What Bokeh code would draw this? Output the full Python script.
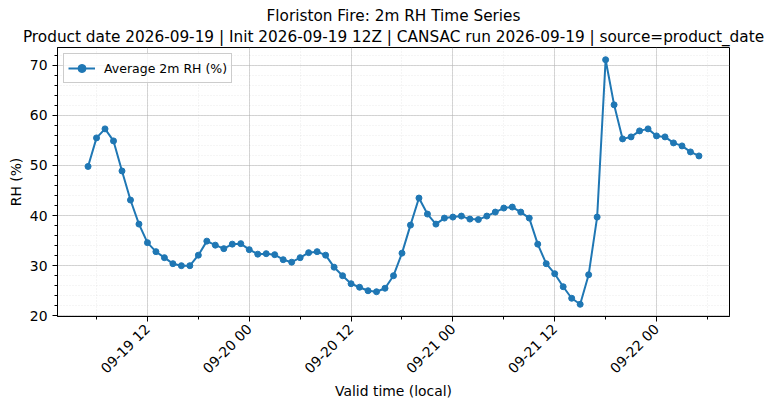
import pandas as pd
from bokeh.plotting import figure
from bokeh.models import (ColumnDataSource, Range1d, FixedTicker, SingleIntervalTicker,
                          DatetimeTickFormatter, Title, Legend)
from bokeh.embed import file_html
from bokeh.resources import INLINE
from math import pi

FONT = "DejaVu Sans"

# hourly valid times (local) and the fire-area average 2m RH
valid_time = pd.date_range("2026-09-19 05:00", "2026-09-22 05:00", freq="h")
rh = [49.8, 55.5, 57.3, 54.9, 48.9, 43.1, 38.3, 34.6, 32.8, 31.6,
      30.4, 30.0, 30.0, 32.1, 34.9, 34.1, 33.4, 34.3, 34.4, 33.2,
      32.3, 32.4, 32.2, 31.2, 30.7, 31.6, 32.6, 32.8, 32.1, 29.7,
      28.0, 26.4, 25.7, 25.0, 24.8, 25.5, 28.0, 32.5, 38.1, 43.5,
      40.3, 38.3, 39.5, 39.7, 39.9, 39.3, 39.2, 39.9, 40.7, 41.5,
      41.7, 40.7, 39.5, 34.3, 30.4, 28.4, 25.8, 23.5, 22.3, 28.2,
      39.7, 71.1, 62.1, 55.3, 55.7, 56.9, 57.3, 55.9, 55.7, 54.5,
      53.9, 52.7, 51.9]

title_main = "Floriston Fire: 2m RH Time Series"
title_sub = "Product date 2026-09-19 | Init 2026-09-19 12Z | CANSAC run 2026-09-19 | source=product_date"
series_label = "Average 2m RH (%)"

major_times = pd.date_range("2026-09-19 12:00", "2026-09-22 00:00", freq="12h")
minor_times = pd.date_range("2026-09-19 00:00", "2026-09-22 12:00", freq="6h")


def to_ms(times):
    return [t.value // 10**6 for t in times]


source = ColumnDataSource(data={'time': valid_time, 'rh': rh})

# matplotlib-like 5% margins
t0, t1 = valid_time[0], valid_time[-1]
pad_t = (t1 - t0) * 0.05
pad_y = (max(rh) - min(rh)) * 0.05

p = figure(width=775, height=409, x_axis_type="datetime",
           x_range=Range1d(t0 - pad_t, t1 + pad_t),
           y_range=Range1d(min(rh) - pad_y, max(rh) + pad_y),
           x_axis_label="Valid time (local)", y_axis_label="RH (%)",
           toolbar_location=None, output_backend="svg",
           min_border_left=57, min_border_right=46,
           min_border_top=47, min_border_bottom=93)

p.add_layout(Title(text=title_sub, align="center", text_font=FONT,
                   text_font_size="15.3px", text_font_style="normal",
                   text_color="black", standoff=4, offset=0), "above")
p.add_layout(Title(text=title_main, align="center", text_font=FONT,
                   text_font_size="15.3px", text_font_style="normal",
                   text_color="black", standoff=-3, offset=0), "above")

line = p.line(x='time', y='rh', source=source, color="#1f77b4", line_width=2)
dots = p.scatter(x='time', y='rh', source=source, color="#1f77b4", size=6)

p.xaxis.ticker = FixedTicker(ticks=to_ms(major_times), minor_ticks=to_ms(minor_times))
p.xaxis.formatter = DatetimeTickFormatter(hours="%m-%d %H", days="%m-%d %H",
                                          hourmin="%m-%d %H", months="%m-%d %H")
p.xaxis.major_label_orientation = pi / 4
p.xaxis.axis_label_standoff = -2
p.yaxis.ticker = SingleIntervalTicker(interval=10, num_minor_ticks=5)
p.yaxis.axis_label_standoff = 3

for ax in [p.xaxis, p.yaxis]:
    ax.axis_label_text_font = FONT
    ax.axis_label_text_font_size = "13.9px"
    ax.axis_label_text_font_style = "normal"
    ax.axis_label_text_color = "black"
    ax.major_label_text_font = FONT
    ax.major_label_text_font_size = "13.9px"
    ax.major_label_text_color = "black"
    ax.major_tick_in = 0
    ax.major_tick_out = 5
    ax.minor_tick_in = 0
    ax.minor_tick_out = 3
    ax.axis_line_color = "black"
    ax.major_tick_line_color = "black"
    ax.minor_tick_line_color = "black"

p.outline_line_color = "black"
p.outline_line_alpha = 1

for g in [p.xgrid, p.ygrid]:
    g.grid_line_color = "#b0b0b0"
    g.grid_line_alpha = 0.5
    g.minor_grid_line_color = "#b0b0b0"
    g.minor_grid_line_alpha = 0.4
    g.minor_grid_line_dash = "1 2"
    g.minor_grid_line_width = 0.6

legend = Legend(items=[(series_label, [line, dots])], location="top_left",
                label_text_font=FONT, label_text_font_size="12.5px",
                label_text_color="black",
                border_line_color="#cccccc", border_line_alpha=1,
                background_fill_alpha=0.8, padding=4, spacing=0,
                margin=6, glyph_width=27, label_standoff=9)
p.add_layout(legend)

open("out.html", "w").write(file_html(p, INLINE))
